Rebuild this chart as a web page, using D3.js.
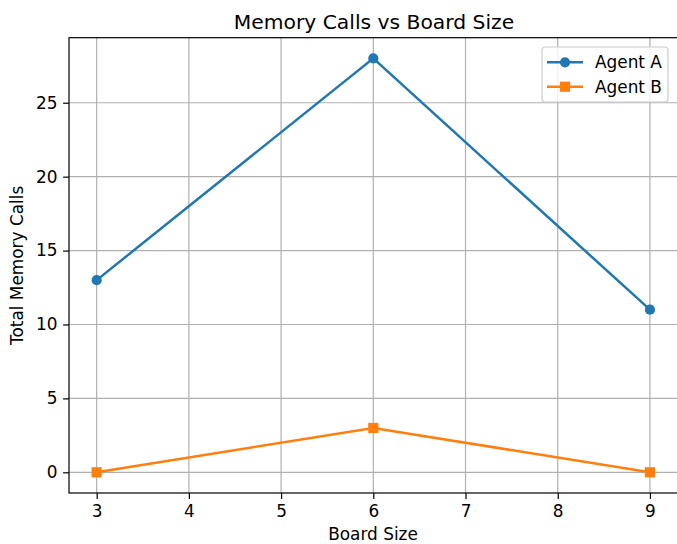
<!DOCTYPE html>
<html><head><meta charset="utf-8">
<script src="https://cdn.jsdelivr.net/npm/d3@7"></script>
<style>body{margin:0;background:#fff;} text{font-family:"DejaVu Sans",sans-serif;}</style>
</head><body><svg id="c" width="677" height="544"></svg>
<script>
const boardSizes = [3, 6, 9];
const agentA = [13, 28, 11];
const agentB = [0, 3, 0];
const xTicks = [3, 4, 5, 6, 7, 8, 9];
const yTicks = [0, 5, 10, 15, 20, 25];
const seriesNames = ["Agent A", "Agent B"];
const colors = ["#1f77b4", "#ff7f0e"];

const svg = d3.select("#c");
const L = 69, R = 677.6, T = 37.7, B = 493;
const x = d3.scaleLinear().domain([2.7, 9.3]).range([L, R]);
const y = d3.scaleLinear().domain([-1.4, 29.4]).range([B, T]);
const fs = 16.9;

// grid
const g = svg.append("g");
g.selectAll(".gx").data(xTicks).enter().append("line")
  .attr("x1", d => x(d)).attr("x2", d => x(d)).attr("y1", T).attr("y2", B)
  .attr("stroke", "#b0b0b0").attr("stroke-width", 1.2);
g.selectAll(".gy").data(yTicks).enter().append("line")
  .attr("y1", d => y(d)).attr("y2", d => y(d)).attr("x1", L).attr("x2", R)
  .attr("stroke", "#b0b0b0").attr("stroke-width", 1.2);

// axes
const xAxis = d3.axisBottom(x).tickValues(xTicks).tickSize(5.9).tickPadding(6.5).tickFormat(d3.format("d"));
const yAxis = d3.axisLeft(y).tickValues(yTicks).tickSize(5.9).tickPadding(5.5).tickFormat(d3.format("d"));
const xa = svg.append("g").attr("transform", `translate(0,${B})`).call(xAxis);
const ya = svg.append("g").attr("transform", `translate(${L},0)`).call(yAxis);
[xa, ya].forEach(a => {
  a.select(".domain").remove();
  a.selectAll("line").attr("stroke", "#000").attr("stroke-width", 1.2);
  a.selectAll("text").attr("font-size", fs).attr("fill", "#000").style("font-family", "DejaVu Sans");
});

// frame
svg.append("rect").attr("x", L).attr("y", T).attr("width", R - L).attr("height", B - T)
  .attr("fill", "none").attr("stroke", "#000").attr("stroke-width", 1.2);

// lines
const data = [agentA, agentB];
const line = d3.line().x((d, i) => x(boardSizes[i])).y(d => y(d));
data.forEach((vals, k) => {
  svg.append("path").attr("d", line(vals)).attr("fill", "none")
    .attr("stroke", colors[k]).attr("stroke-width", 2.5);
});
const ms = 10.2;
svg.selectAll(".ma").data(agentA).enter().append("circle")
  .attr("cx", (d, i) => x(boardSizes[i])).attr("cy", d => y(d)).attr("r", ms / 2).attr("fill", colors[0]);
svg.selectAll(".mb").data(agentB).enter().append("rect")
  .attr("x", (d, i) => x(boardSizes[i]) - ms / 2).attr("y", d => y(d) - ms / 2)
  .attr("width", ms).attr("height", ms).attr("fill", colors[1]);

// title and labels
svg.append("text").attr("x", 374).attr("y", 29).attr("text-anchor", "middle")
  .attr("font-size", 20.3).text("Memory Calls vs Board Size");
svg.append("text").attr("x", 373).attr("y", 539.5).attr("text-anchor", "middle")
  .attr("font-size", fs).text("Board Size");
svg.append("text").attr("transform", `translate(23,${(T + B) / 2}) rotate(-90)`).attr("text-anchor", "middle")
  .attr("font-size", fs).text("Total Memory Calls");

// legend
const lg = svg.append("g");
lg.append("rect").attr("x", 542).attr("y", 47).attr("width", 126).attr("height", 55).attr("rx", 3.5)
  .attr("fill", "#fff").attr("fill-opacity", 0.8).attr("stroke", "#ccc").attr("stroke-width", 1.2);
seriesNames.forEach((name, k) => {
  const yy = 62.3 + k * 24.4;
  lg.append("line").attr("x1", 547).attr("x2", 583).attr("y1", yy).attr("y2", yy)
    .attr("stroke", colors[k]).attr("stroke-width", 2.5);
  if (k === 0) lg.append("circle").attr("cx", 565).attr("cy", yy).attr("r", ms / 2).attr("fill", colors[k]);
  else lg.append("rect").attr("x", 565 - ms / 2).attr("y", yy - ms / 2).attr("width", ms).attr("height", ms).attr("fill", colors[k]);
  lg.append("text").attr("x", 595).attr("y", yy + 6).attr("font-size", fs).text(name);
});
</script></body></html>
